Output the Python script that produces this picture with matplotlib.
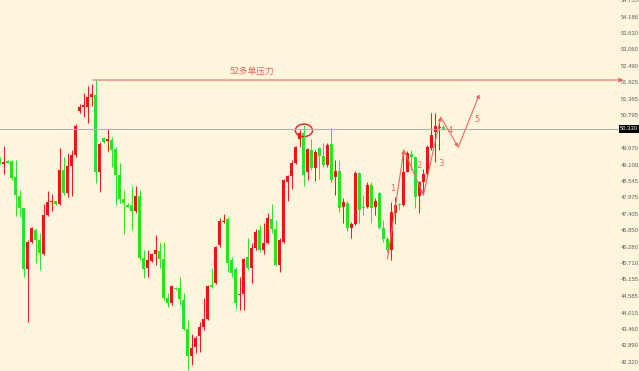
import numpy as np
import matplotlib
matplotlib.use('Agg')
import matplotlib.pyplot as plt
from matplotlib.patches import Ellipse

# daily candles (open, high, low, close)
opens = [49.29, 49.13, 49.23, 49.24, 48.67, 48.04, 47.62, 45.51, 46.43, 46.87,
         46.51, 46.03, 47.37, 47.82, 47.84, 47.75, 48.92, 48.12, 49.06, 49.42,
         50.96, 51.09, 51.09, 51.44, 51.50, 48.84, 50.01, 49.93, 49.95, 49.63,
         48.76, 47.91, 47.71, 47.71, 47.50, 48.03, 45.88, 45.54, 45.79, 46.04,
         46.13, 45.87, 44.51, 44.34, 44.86, 44.85, 44.45, 43.45, 42.54, 42.83,
         43.23, 43.53, 43.81, 44.97, 45.03, 46.34, 47.12, 47.22, 45.83, 45.51,
         44.62, 44.66, 45.92, 45.54, 46.23, 46.86, 46.17, 46.40, 47.25, 46.88,
         45.65, 46.46, 48.52, 48.71, 49.17, 49.97, 50.20, 48.86, 49.61, 48.98,
         49.66, 49.40, 49.09, 49.80, 48.68, 48.88, 47.66, 47.77, 46.92, 47.05,
         48.81, 47.66, 47.66, 48.40, 47.66, 48.14, 46.92, 46.55, 46.17, 47.43,
         47.74, 47.72, 48.86, 49.46, 49.38, 48.04, 48.50, 48.77, 49.66, 50.21,
         50.35, 50.41]
highs = [49.36, 49.74, 49.26, 49.26, 49.26, 48.23, 47.62, 46.51, 46.97, 46.92,
         46.74, 47.75, 48.21, 48.08, 47.85, 49.66, 49.36, 49.49, 49.61, 50.50,
         51.19, 51.55, 51.81, 51.87, 52.01, 49.89, 50.04, 50.32, 50.06, 49.72,
         49.15, 48.23, 47.77, 48.37, 48.37, 48.23, 46.17, 46.17, 46.08, 46.69,
         46.46, 46.46, 44.68, 44.97, 44.91, 45.25, 44.68, 43.77, 43.28, 43.21,
         43.71, 44.51, 44.97, 45.54, 46.31, 47.26, 47.41, 47.31, 45.94, 45.60,
         45.25, 45.88, 46.57, 46.40, 46.88, 47.03, 47.11, 47.43, 47.75, 47.20,
         46.57, 48.60, 48.75, 49.26, 49.74, 50.29, 50.46, 49.66, 49.97, 49.61,
         49.72, 49.84, 49.86, 50.35, 49.26, 49.26, 47.95, 47.85, 47.14, 48.88,
         48.86, 48.06, 48.50, 48.50, 47.95, 48.17, 47.20, 46.63, 47.81, 48.00,
         47.77, 49.61, 49.57, 49.61, 49.41, 48.54, 48.95, 49.78, 50.87, 50.87,
         50.52, 50.46]
lows = [49.13, 48.78, 49.15, 48.58, 47.34, 47.31, 45.25, 43.71, 46.40, 45.71,
        45.48, 46.00, 47.34, 47.52, 47.73, 47.72, 48.06, 48.00, 48.03, 49.38,
        50.87, 50.75, 50.54, 51.12, 48.46, 48.16, 49.84, 49.57, 49.03, 47.72,
        47.77, 46.72, 47.64, 46.86, 47.45, 45.83, 45.20, 45.25, 45.77, 45.65,
        45.54, 44.45, 44.20, 44.28, 44.80, 44.28, 43.42, 42.05, 42.22, 42.62,
        42.68, 43.42, 43.77, 44.85, 45.00, 46.28, 47.11, 45.42, 45.25, 44.13,
        44.11, 44.11, 45.48, 45.05, 46.17, 46.11, 46.03, 46.38, 46.76, 45.63,
        45.42, 46.42, 47.86, 48.26, 49.13, 49.72, 48.38, 48.58, 48.92, 48.55,
        48.60, 49.01, 49.03, 48.52, 48.06, 47.49, 47.09, 46.82, 46.59, 47.03,
        47.09, 47.37, 47.60, 47.09, 47.37, 46.89, 46.46, 46.11, 45.83, 47.05,
        47.54, 47.68, 48.84, 48.92, 47.62, 47.43, 48.06, 48.72, 49.61, 49.20,
        49.61, 50.29]
closes = [49.15, 49.19, 49.16, 48.64, 48.06, 47.62, 45.51, 46.43, 46.92, 46.51,
          46.08, 47.37, 47.82, 47.84, 47.75, 48.92, 48.14, 49.06, 49.42, 50.44,
          51.09, 51.15, 51.44, 51.53, 48.84, 49.81, 49.89, 49.95, 49.61, 48.76,
          47.91, 47.80, 47.66, 47.50, 48.04, 45.88, 45.53, 45.82, 46.04, 46.16,
          45.87, 44.51, 44.34, 44.93, 44.83, 44.48, 43.45, 42.54, 42.81, 43.14,
          43.51, 43.79, 44.93, 44.91, 46.28, 47.18, 47.17, 45.71, 45.39, 44.36,
          44.66, 45.85, 45.54, 46.23, 46.80, 46.17, 46.40, 47.28, 46.88, 45.65,
          46.51, 48.58, 48.71, 49.17, 49.70, 50.20, 48.75, 49.63, 48.98, 49.55,
          49.40, 49.09, 49.78, 48.58, 48.88, 47.60, 47.81, 46.92, 47.05, 48.81,
          47.54, 47.60, 48.40, 47.62, 47.85, 46.92, 46.55, 46.17, 47.49, 47.72,
          47.72, 48.86, 49.49, 49.38, 48.00, 48.50, 48.77, 49.72, 50.12, 50.44,
          50.37, 50.29]

# right price scale
tick_values = [54.755, 54.186, 53.630, 53.060, 52.490, 51.925, 51.365, 50.795,
               49.670, 49.100, 48.545, 47.975, 47.405, 46.850, 46.280, 45.710,
               45.155, 44.585, 44.015, 43.460, 42.890, 42.320]
tick_labels = ['54.755', '54.186', '53.630', '53.060', '52.490', '51.925', '51.365', '50.795',
               '49.670', '49.100', '48.545', '47.975', '47.405', '46.850', '46.280', '45.710',
               '45.155', '44.585', '44.015', '43.460', '42.890', '42.320']

last_price = 50.33
last_label = '50.330'
resist_price = 52.01
resist_start = 23.3
resist_label = '52多单压力'

# wave 1-5 sketch
wave_x = [97.0, 101.1, 106.0, 110.3, 114.7, 120.0]
wave_y = [45.86, 49.61, 48.06, 50.74, 49.70, 51.52]
wave_names = ['1', '2', '3', '4', '5']
wave_name_x = [98.4, 104.9, 110.5, 112.8, 119.5]
wave_name_y = [48.29, 49.08, 49.15, 50.26, 50.64]

bg = '#fdf6dc'
red = '#ff1010'
green = '#22e822'
note = '#f26464'

fig = plt.figure(figsize=(6.39, 3.71), dpi=100)
fig.patch.set_facecolor(bg)
ax = fig.add_axes([0, 0, 619/639, 1])
ax.set_facecolor(bg)
for s in ax.spines.values():
    s.set_visible(False)

o = np.array(opens)
c = np.array(closes)
x = np.arange(len(o))
cols = np.where(c >= o, red, green)
ax.vlines(x, lows, highs, colors=cols, lw=0.7)
body_bot = np.minimum(o, c)
body_h = np.maximum(np.abs(c - o), 0.04)
ax.bar(x, body_h, bottom=body_bot, width=0.7, color=cols, linewidth=0)

ax.set_xlim(0.1, 154.9)
ax.set_ylim(42.01, 54.76)
ax.set_xticks([])
ax.yaxis.tick_right()
ax.set_yticks(tick_values, tick_labels)
ax.tick_params(axis='y', length=0, pad=1.2, labelsize=4.2, labelcolor='#606060')
for t in ax.get_yticklabels():
    t.set_family('Liberation Sans')

# last price line + box
ax.axhline(last_price, color='#b0b0b0', lw=0.8)
ax.text(1.002, last_price, last_label, transform=ax.get_yaxis_transform(),
        ha='left', va='center', color='white', fontsize=4.2, family='Liberation Sans',
        bbox=dict(boxstyle='square,pad=0.2', fc='black', ec='none'), clip_on=False)

# resistance line
ax.annotate('', xy=(156.0, resist_price), xytext=(resist_start, resist_price),
            arrowprops=dict(arrowstyle='-|>', color=note, lw=0.8, mutation_scale=6,
                            shrinkA=0, shrinkB=0), annotation_clip=False)
ax.text(63.1, resist_price + 0.31, resist_label, color=note, fontsize=6.3,
        ha='center', va='center', family=['Noto Sans CJK SC', 'DejaVu Sans'])

# circle at the old high
ax.add_patch(Ellipse((76.1, 50.28), 4.3, 0.43, fill=False, ec='#ee1c1c', lw=1.0))

# wave arrows
for i in range(len(wave_x) - 1):
    ax.annotate('', xy=(wave_x[i+1], wave_y[i+1]), xytext=(wave_x[i], wave_y[i]),
                arrowprops=dict(arrowstyle='-|>', color=note, lw=0.8, mutation_scale=5,
                                shrinkA=0, shrinkB=0))
for i in range(len(wave_names)):
    ax.text(wave_name_x[i], wave_name_y[i], wave_names[i], color=note, fontsize=6,
            ha='center', va='center')

fig.savefig('out.png', dpi=100, facecolor=bg)
